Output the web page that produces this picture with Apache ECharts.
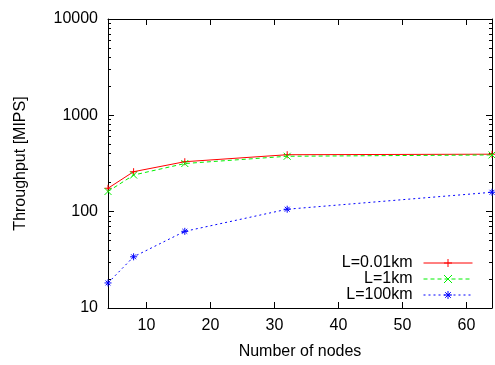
<!DOCTYPE html>
<html>
<head>
<meta charset="utf-8">
<script src="https://cdn.jsdelivr.net/npm/echarts@6/dist/echarts.min.js"></script>
<style>
  html, body { margin: 0; padding: 0; background: #fff; }
  #chart { width: 495px; height: 365px; }
</style>
</head>
<body>
<div id="chart"></div>
<script>
// Throughput versus node count for three link lengths
const nodes = [4, 8, 16, 32, 64];
const seriesNames = ['L=0.01km', 'L=1km', 'L=100km'];
const tputShort = [175, 260, 330, 390, 395];
const tputMid = [162, 240, 316, 376, 388];
const tputLong = [18.2, 34, 62.5, 106, 159];

const xTicks = [10, 20, 30, 40, 50, 60];
const yTicks = [10, 100, 1000, 10000];

// minor ticks at 2..9 within each decade
const yMinor = [];
for (let d = 10; d < 10000; d *= 10) {
  for (let k = 2; k <= 9; k++) yMinor.push(d * k);
}

const FONT = 'Liberation Sans';
const plus = 'path://M0,5L10,5M5,0L5,10';
const cross = 'path://M0,0L10,10M10,0L0,10';
const star = 'path://M0,5L10,5M5,0L5,10M1.5,1.5L8.5,8.5M8.5,1.5L1.5,8.5';

function pairs(ys) { return nodes.map((x, i) => [x, ys[i]]); }

function xAxis(pos, labels) {
  return {
    type: 'value', position: pos, min: 4, max: 64,
    name: labels ? 'Number of nodes' : '',
    nameLocation: 'middle', nameGap: 36,
    nameTextStyle: { color: '#000', fontFamily: FONT, fontSize: 16 },
    axisLine: { show: true, lineStyle: { color: '#000', width: 1 } },
    axisTick: { show: true, inside: true, length: 6, customValues: xTicks, lineStyle: { color: '#000' } },
    axisLabel: { show: labels, customValues: xTicks, margin: 10, color: '#000', fontFamily: FONT, fontSize: 16 },
    splitLine: { show: false }
  };
}

function yAxis(pos, major, labels) {
  return {
    type: 'log', logBase: 10, position: pos, min: 10, max: 10000,
    name: labels ? 'Throughput [MIPS]' : '',
    nameLocation: 'middle', nameGap: 79,
    nameTextStyle: { color: '#000', fontFamily: FONT, fontSize: 16 },
    axisLine: { show: major, lineStyle: { color: '#000', width: 1 } },
    axisTick: { show: true, inside: true, length: major ? 6 : 3,
      customValues: major ? yTicks : yMinor, lineStyle: { color: '#000' } },
    axisLabel: { show: labels, customValues: yTicks, margin: 10, color: '#000',
      fontFamily: FONT, fontSize: 16, formatter: v => String(v) },
    splitLine: { show: false }
  };
}

function line(name, ys, color, dash, symbol) {
  return {
    name, type: 'line', data: pairs(ys),
    symbol, symbolSize: 7, showAllSymbol: true,
    lineStyle: { color, width: 1, type: dash },
    itemStyle: { color, borderColor: color, borderWidth: 1 },
    emphasis: { disabled: true },
    animation: false
  };
}

const chart = echarts.init(document.getElementById('chart'), null, { renderer: 'canvas' });
chart.setOption({
  animation: false,
  grid: { left: 108, right: 3, top: 19, bottom: 54 },
  xAxis: [xAxis('bottom', true), xAxis('top', false)],
  yAxis: [
    yAxis('left', true, true),
    yAxis('left', false, false),
    yAxis('right', true, false),
    yAxis('right', false, false)
  ],
  legend: {
    orient: 'vertical', align: 'right', right: 22, top: 255, padding: 0,
    itemWidth: 49, itemHeight: 10, itemGap: 0,
    lineStyle: { width: 1 },
    itemStyle: { borderWidth: 1 },
    textStyle: { color: '#000', fontFamily: FONT, fontSize: 16, lineHeight: 16, padding: [0, 6, 0, 0] },
    data: seriesNames
  },
  series: [
    line(seriesNames[0], tputShort, '#ff0000', 'solid', plus),
    line(seriesNames[1], tputMid, '#00f000', [4, 3], cross),
    line(seriesNames[2], tputLong, '#0000ff', [2, 3], star)
  ]
});
</script>
</body>
</html>
